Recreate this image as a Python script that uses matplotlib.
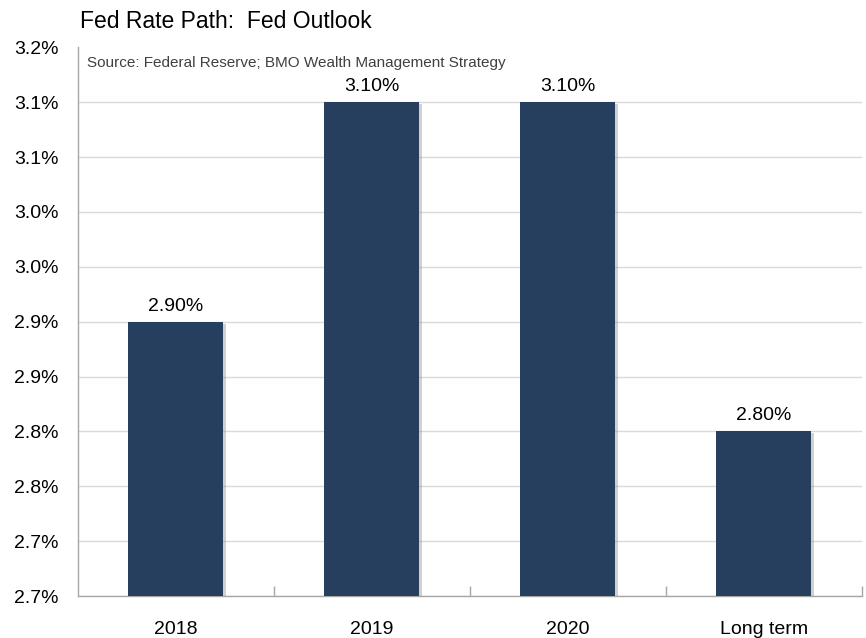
import numpy as np
import matplotlib
matplotlib.use("Agg")
import matplotlib.pyplot as plt
import matplotlib.patheffects as pe

plt.rcParams['font.family'] = ['Liberation Sans', 'DejaVu Sans']

categories = ['2018', '2019', '2020', 'Long term']
rates = [2.90, 3.10, 3.10, 2.80]
bar_labels = ['2.90%', '3.10%', '3.10%', '2.80%']
y_ticks = [2.65, 2.70, 2.75, 2.80, 2.85, 2.90, 2.95, 3.00, 3.05, 3.10, 3.15]
y_tick_labels = ['2.7%', '2.7%', '2.8%', '2.8%', '2.9%', '2.9%',
                 '3.0%', '3.0%', '3.1%', '3.1%', '3.2%']

fig = plt.figure(figsize=(8.66, 6.38), dpi=100)
ax = fig.add_axes([0.090, 0.0658, 0.905, 0.860])

x = np.arange(len(categories))
bars = ax.bar(x, rates, width=0.485, color='#263F5F', zorder=3,
              path_effects=[pe.SimplePatchShadow(offset=(2, -1.5), shadow_rgbFace='#8c8c8c', alpha=0.4),
                            pe.Normal()])

for xi, r, lab in zip(x, rates, bar_labels):
    ax.annotate(lab, (xi, r), xytext=(0, 5), textcoords='offset points',
                ha='center', va='bottom', fontsize=14, color='black')

ax.set_xlim(-0.5, len(categories) - 0.5)
ax.set_ylim(2.65, 3.15)
ax.set_yticks(y_ticks)
ax.set_yticklabels(y_tick_labels)
ax.tick_params(axis='y', length=0, labelsize=14, pad=14)

ax.set_xticks(x)
ax.set_xticklabels(categories)
ax.tick_params(axis='x', which='major', length=0, labelsize=14, pad=18)
ax.set_xticks(np.arange(len(categories)) + 0.5, minor=True)
ax.tick_params(axis='x', which='minor', direction='in', length=7, color='#a6a6a6', width=1)

ax.grid(axis='y', color='#d9d9d9', linewidth=1, zorder=0)
gl = ax.get_ygridlines()
gl[-1].set_visible(False)

for s in ['top', 'right']:
    ax.spines[s].set_visible(False)
for s in ['left', 'bottom']:
    ax.spines[s].set_color('#a6a6a6')
    ax.spines[s].set_linewidth(1)

ax.text(0.012, 0.985, 'Source: Federal Reserve; BMO Wealth Management Strategy',
        transform=ax.transAxes, ha='left', va='top', fontsize=11, color='#404040')

fig.text(0.092, 0.967, 'Fed Rate Path:  Fed Outlook', ha='left', va='center',
         fontsize=16.5, color='black')

fig.savefig('out.png', dpi=100)
